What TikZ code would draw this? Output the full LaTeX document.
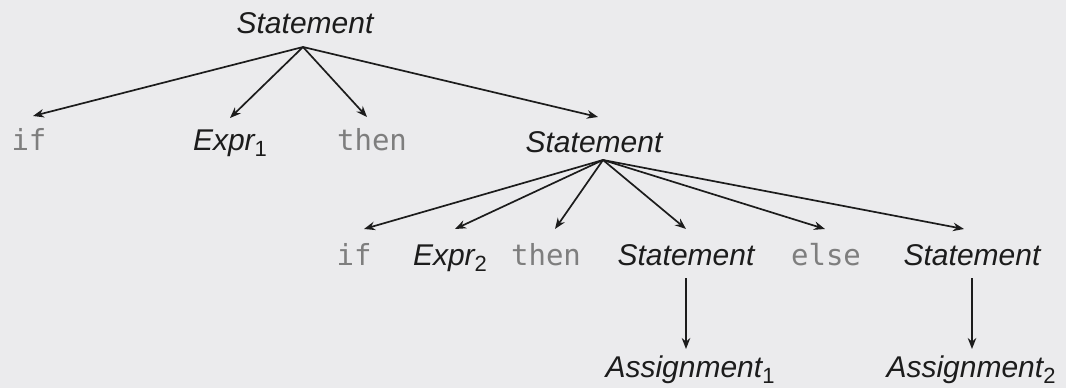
\documentclass[tikz,border=0pt]{standalone}
\usepackage{fontspec}
\setmainfont{Liberation Sans}
\newfontfamily\codefont{DejaVu Sans Mono}
\usetikzlibrary{arrows.meta}
\definecolor{bg}{HTML}{EBEBED}
\definecolor{ink}{HTML}{1C1C1C}
\definecolor{kw}{HTML}{7E7E7E}
\newcommand{\nt}[1]{\fontsize{30}{36}\selectfont\itshape #1}
\newcommand{\ntsub}[2]{\fontsize{30}{36}\selectfont\itshape #1\raisebox{-6pt}{\fontsize{22}{24}\selectfont\upshape #2}}
\begin{document}
\begin{tikzpicture}[x=1pt,y=1pt,
  sym/.style={anchor=base,inner sep=0pt,text=ink},
  kwd/.style={anchor=base,inner sep=0pt,text=kw,font=\codefont\fontsize{29}{34}\selectfont},
  arr/.style={draw=ink,line width=1.7pt,-{Stealth[length=11pt,width=8.5pt]}}]
\fill[bg] (0,0) rectangle (1066,-388);
\useasboundingbox (0,0) rectangle (1066,-388);

% root
\node[sym] (s1) at (305,-33) {\nt{Statement}};
% first level
\node[kwd] (if1) at (29,-150) {if};
\node[sym] (e1) at (230,-150) {\ntsub{Expr}{1}};
\node[kwd] (th1) at (372,-150) {then};
\node[sym] (s2) at (594,-152) {\nt{Statement}};
% second level
\node[kwd] (if2) at (354,-265) {if};
\node[sym] (e2) at (450,-265) {\ntsub{Expr}{2}};
\node[kwd] (th2) at (546,-265) {then};
\node[sym] (s3) at (686,-265) {\nt{Statement}};
\node[kwd] (el2) at (826,-265) {else};
\node[sym] (s4) at (972,-265) {\nt{Statement}};
% leaves
\node[sym] (a1) at (690,-377) {\ntsub{Assignment}{1}};
\node[sym] (a2) at (971,-377) {\ntsub{Assignment}{2}};

% branch points below the parents
\coordinate (o1) at ([shift={(-2,-14)}]s1.base);
\coordinate (o2) at ([shift={(9,-8)}]s2.base);

\draw[arr] (o1) -- ([shift={(4,34)}]if1.base);
\draw[arr] (o1) -- ([shift={(0,32)}]e1.base);
\draw[arr] (o1) -- ([shift={(-5,33)}]th1.base);
\draw[arr] (o1) -- ([shift={(4,35)}]s2.base);

\draw[arr] (o2) -- ([shift={(10,36)}]if2.base);
\draw[arr] (o2) -- ([shift={(5,36)}]e2.base);
\draw[arr] (o2) -- ([shift={(9,36)}]th2.base);
\draw[arr] (o2) -- ([shift={(0,36)}]s3.base);
\draw[arr] (o2) -- ([shift={(-1,36)}]el2.base);
\draw[arr] (o2) -- ([shift={(-8,36)}]s4.base);

\draw[arr] ([yshift=-13pt]s3.base) -- ([yshift=28pt]s3.base |- a1.base);
\draw[arr] ([yshift=-13pt]s4.base) -- ([yshift=28pt]s4.base |- a2.base);
\end{tikzpicture}
\end{document}
